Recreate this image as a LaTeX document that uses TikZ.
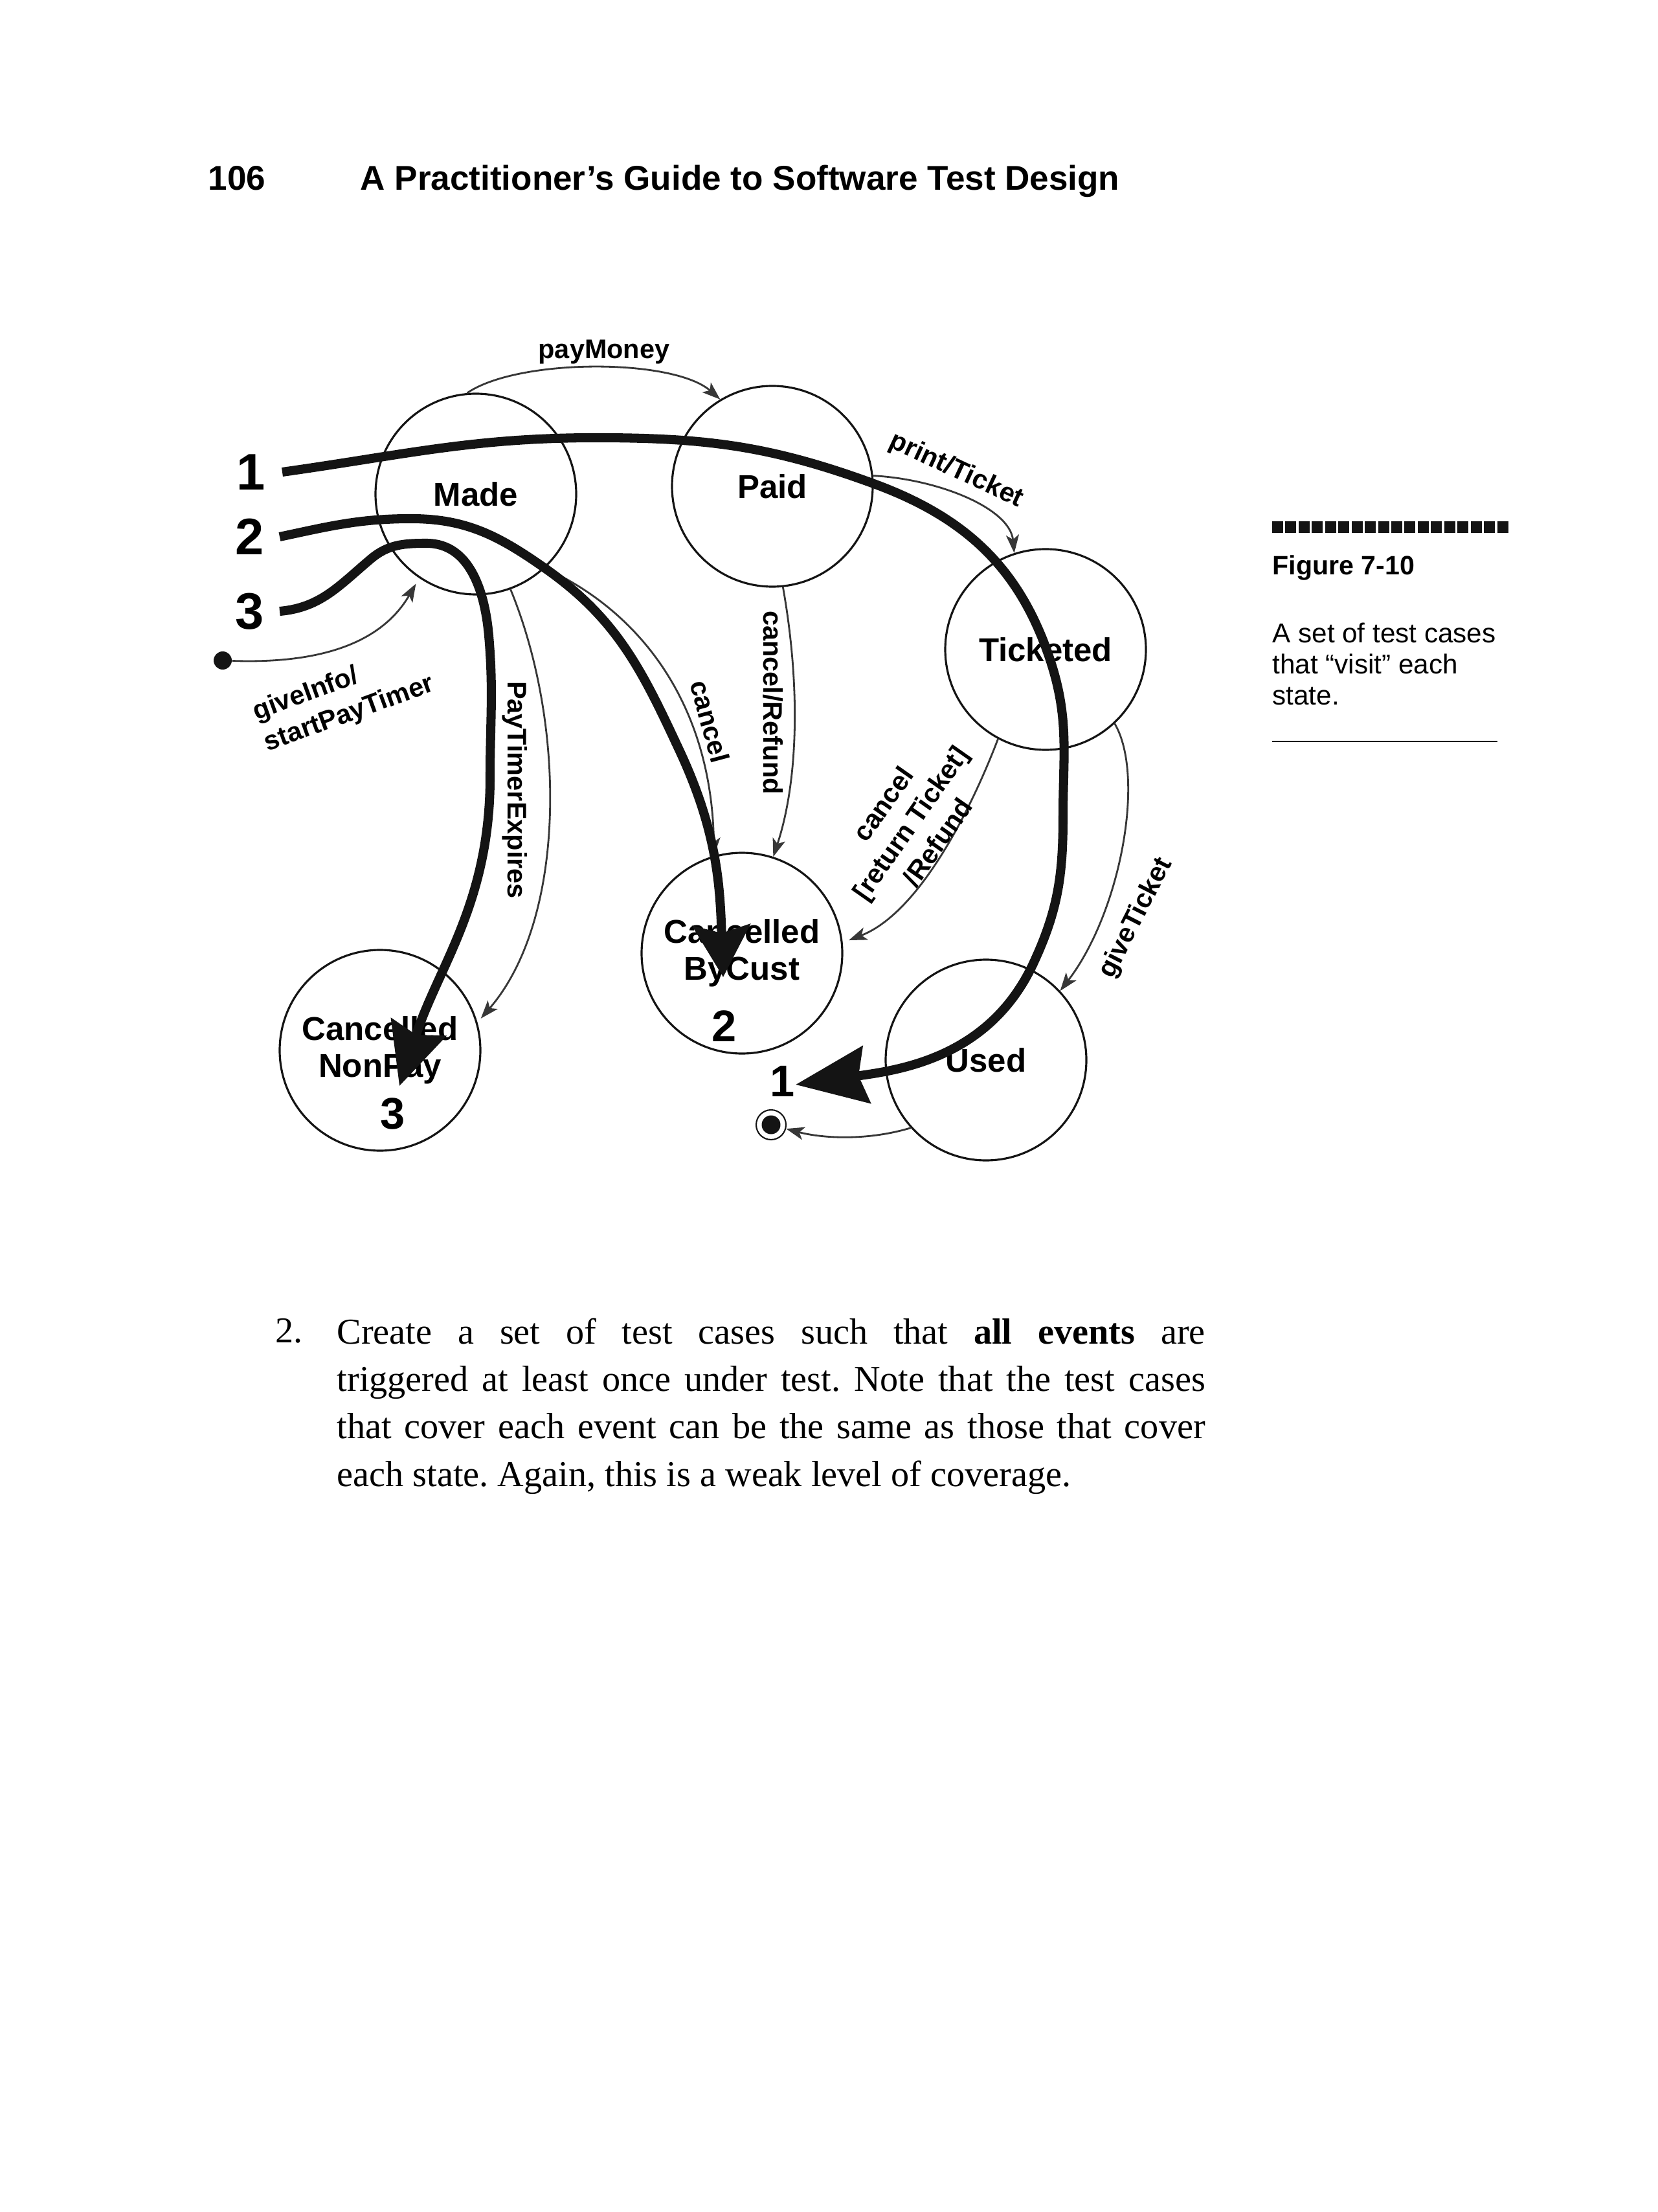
\documentclass[tikz,border=0pt]{standalone}
\usepackage{fontspec}
\setmainfont{Liberation Serif}
\setsansfont{Liberation Sans}
\usepackage{tikz}
\usetikzlibrary{arrows.meta, positioning}
\definecolor{ink}{RGB}{20,20,20}
\definecolor{wire}{RGB}{55,55,55}

\begin{document}
\begin{tikzpicture}[
  state/.style={draw=ink, circle, line width=0.9pt, minimum size=3.1cm, inner sep=0pt, align=center,
    font=\sffamily\bfseries\fontsize{14.5}{16.2}\selectfont},
  evt/.style={inner sep=0pt, font=\sffamily\bfseries\fontsize{11.8}{14.6}\selectfont},
  trans/.style={draw=wire, line width=0.8pt, -{Stealth[length=2.8mm, width=2mm, inset=0.7mm]}},
  tcase/.style={ink, line width=4pt, -{Stealth[length=#1, width=8.8mm, inset=1.2mm]}},
  bignum/.style={inner sep=0pt, font=\sffamily\bfseries\fontsize{22.6}{26}\selectfont},
  tipnum/.style={inner sep=0pt, font=\sffamily\bfseries\fontsize{19.5}{22}\selectfont},
]
  \fill[white] (0,0) rectangle (25.6,-34.16);
  \useasboundingbox (0,0) rectangle (25.6,-34.16);

  \node[anchor=base west, inner sep=0pt, font=\sffamily\bfseries\fontsize{15.1}{18}\selectfont]
    (pageno) at (3.21,-2.94) {106};
  \node[anchor=base west, inner sep=0pt, font=\sffamily\bfseries\fontsize{15.1}{18}\selectfont]
    (runhead) at (5.56,-2.94) {A Practitioner’s Guide to Software Test Design};

  \node[state] (made) at (7.35,-7.63) {Made};
  \node[state] (paid) at (11.93,-7.51) {Paid};
  \node[state] (ticketed) at (16.15,-10.03) {Ticketed};
  \node[state] (bycust) at (11.46,-14.72) {Cancelled\\ByCust};
  \node[state] (nonpay) at (5.87,-16.22) {Cancelled\\NonPay};
  \node[state] (used) at (15.23,-16.37) {Used};
  \node[circle, fill=ink, inner sep=0pt, minimum size=2.8mm] (init) at (3.44,-10.20) {};
  \node[circle, draw=ink, line width=0.6pt, inner sep=0pt, minimum size=4.6mm,
    path picture={\fill[ink] (path picture bounding box.center) circle (1.45mm);}]
    (final) at (11.91,-17.37) {};

  \draw[trans, shorten >=1mm] (init) to[out=-2, in=240] (made.236);
  \draw[trans] (made.95) .. controls (8.0,-5.53) and (10.4,-5.53) .. (paid.121);
  \draw[trans] (paid.6) .. controls (14.5,-7.40) and (15.6,-7.85) .. (ticketed.108);
  \draw[trans, shorten >=0.8mm] (made.-70) .. controls (8.75,-11.2) and (8.75,-14.2) .. (nonpay.16);
  \draw[trans] (made.-47) .. controls (10.0,-9.5) and (11.0,-11.0) .. (bycust.106);
  \draw[trans] (paid.-84) .. controls (12.35,-10.5) and (12.35,-12.0) .. (bycust.72);
  \draw[trans, shorten >=1mm] (ticketed.-118) .. controls (15.0,-12.5) and (14.2,-14.1) .. (bycust.6);
  \draw[trans] (ticketed.-47) .. controls (17.7,-12.0) and (17.3,-14.1) .. (used.43);
  \draw[trans] (used.222) .. controls (13.4,-17.62) and (12.7,-17.58) .. (final);

  \node[evt] (lblpay) at (9.33,-5.44) {payMoney};
  \node[evt, rotate=-25] (lblprint) at (14.77,-7.27) {print/Ticket};
  \node[evt, rotate=20, align=left] (lblinfo) at (5.31,-10.79) {giveInfo/\\startPayTimer};
  \node[evt, rotate=-90] (lbltimer) at (7.95,-12.20) {PayTimerExpires};
  \node[evt, rotate=-75] (lblcancel) at (10.97,-11.14) {cancel};
  \node[evt, rotate=-90] (lblrefund) at (11.94,-10.85) {cancel/Refund};
  \node[evt, rotate=55, align=center] (lblreturn) at (14.06,-12.71) {cancel\\{[}return Ticket{]}\\/Refund};
  \node[evt, rotate=63] (lblgive) at (17.55,-14.18) {giveTicket};

  \coordinate (s1) at (4.36,-7.29);
  \coordinate (s2) at (4.32,-8.29);
  \coordinate (s3) at (4.32,-9.44);
  \coordinate (e1) at (12.29,-16.75);
  \coordinate (e2) at (11.17,-15.09);
  \coordinate (e3) at (6.17,-16.77);
  \node[bignum, left=0.26cm of s1] (n1) {1};
  \node[bignum, left=0.24cm of s2] (n2) {2};
  \node[bignum, left=0.24cm of s3] (n3) {3};
  \node[tipnum] (m1) at (12.09,-16.70) {1};
  \node[tipnum] (m2) at (11.19,-15.85) {2};
  \node[tipnum] (m3) at (6.07,-17.20) {3};

  \draw[tcase=11mm] (s1) to[out=8, in=180] (9.2,-6.76) to[out=0, in=160] (13.47,-7.46)
    to[out=-20, in=108] (16.23,-10.22) to[out=-72, in=90] (16.42,-12.6)
    to[out=-90, in=65] (15.96,-14.88) to[out=-115, in=8] (e1);
  \draw[tcase=8mm] (s2) to[out=12, in=180] (6.35,-8.01) to[out=0, in=145] (8.41,-8.77)
    to[out=-35, in=115] (10.5,-11.6) to[out=-65, in=92] (e2);
  \draw[tcase=9.5mm] (s3) to[out=5, in=220] (5.73,-8.63) to[out=40, in=180] (6.59,-8.39)
    to[out=0, in=95] (7.55,-9.82) to[out=-85, in=90] (7.57,-12.0) to[out=-90, in=72] (e3);

  \foreach \k in {0,...,17}
    \fill[ink] ({19.65+0.2044*\k},-8.05) rectangle ++(0.17,-0.18);
  \node[anchor=base west, inner sep=0pt, font=\sffamily\bfseries\fontsize{11.7}{14}\selectfont]
    (figno) at (19.65,-8.88) {Figure 7-10};
  \node[anchor=north west, inner sep=0pt, align=left, font=\sffamily\fontsize{12}{13.7}\selectfont]
    (figtext) at (19.65,-9.61) {A set of test cases\\that “visit” each\\state.};
  \draw[ink, line width=0.6pt] (19.65,-11.45) -- (23.13,-11.45);

  \node[anchor=base west, inner sep=0pt, font=\fontsize{16}{20.85}\selectfont]
    (itemno) at (4.25,-20.73) {2.};
  \node[anchor=north west, inner sep=0pt, text width=13.41cm, align=justify,
    font=\fontsize{16}{20.85}\selectfont\frenchspacing]
    (item) at (5.20,-20.35) {\tolerance=10000\hyphenpenalty=10000
    Create a set of test cases such that \textbf{all events} are\linebreak
    triggered at least once under test. Note that the test cases\linebreak
    that cover each event can be the same as those that cover\linebreak
    each state. Again, this is a weak level of coverage.};
\end{tikzpicture}
\end{document}
